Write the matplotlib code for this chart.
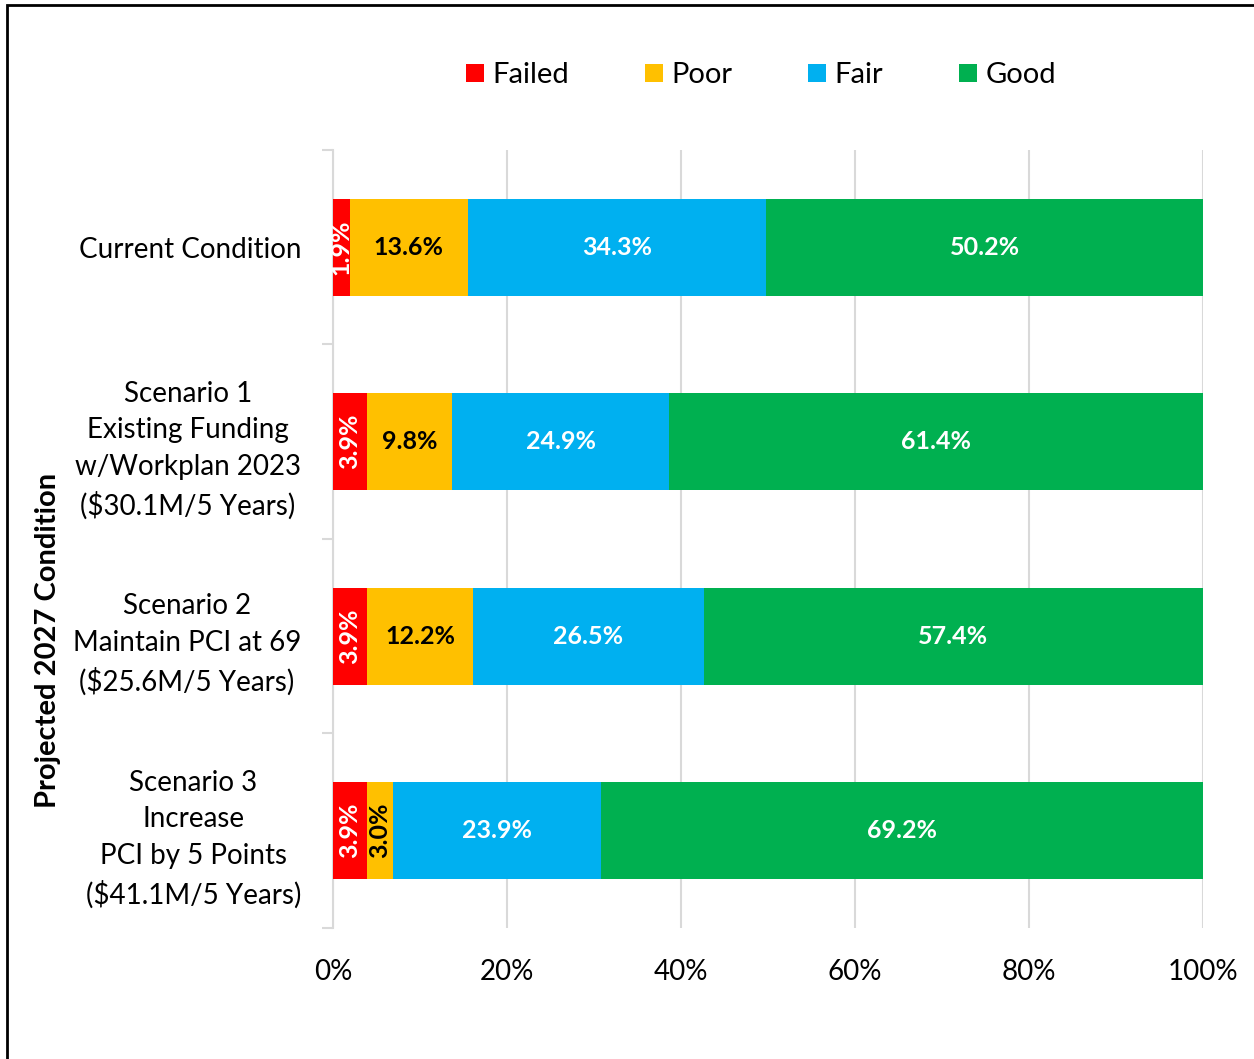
import matplotlib.pyplot as plt
import numpy as np
from matplotlib.patches import Rectangle

categories = [
    'Current Condition',
    'Scenario 1\nExisting Funding\nw/Workplan 2023\n($30.1M/5 Years)',
    'Scenario 2\nMaintain PCI at 69\n($25.6M/5 Years)',
    'Scenario 3\nIncrease\nPCI by 5 Points\n($41.1M/5 Years)',
]
series_names = ['Failed', 'Poor', 'Fair', 'Good']
failed = [1.9, 3.9, 3.9, 3.9]
poor = [13.6, 9.8, 12.2, 3.0]
fair = [34.3, 24.9, 26.5, 23.9]
good = [50.2, 61.4, 57.4, 69.2]
colors = ['#FF0000', '#FFC000', '#00B0F0', '#00B050']
label_colors = ['white', 'black', 'white', 'white']

plt.rcParams['font.family'] = ['Lato', 'DejaVu Sans']

fig = plt.figure(figsize=(12.54, 10.59), dpi=100)
ax = fig.add_axes([0.2656, 0.1237, 0.6938, 0.7347])

values = np.array([failed, poor, fair, good])
y = np.arange(len(categories))
left = np.zeros(len(categories))
for i, name in enumerate(series_names):
    ax.barh(y, values[i], left=left, height=0.5, color=colors[i], label=name, zorder=3)
    for j in range(len(categories)):
        v = values[i, j]
        cx = left[j] + v / 2
        rot = 90 if (i == 0 or v < 5) else 0
        ax.text(cx, y[j], f'{v:.1f}%', ha='center', va='center', rotation=rot,
                color=label_colors[i], fontsize=18, fontweight='bold', zorder=4)
    left += values[i]

ax.set_xlim(0, 100)
ax.set_ylim(len(categories) - 0.5, -0.5)
ax.set_xticks(np.arange(0, 101, 20))
ax.set_xticklabels([f'{t}%' for t in range(0, 101, 20)], fontsize=20)
ax.set_yticks(y)
ax.set_yticklabels(categories, fontsize=20, multialignment='center', linespacing=1.5)
ax.set_yticks(np.arange(-0.5, len(categories), 1), minor=True)
ax.tick_params(axis='y', which='major', length=0, pad=23)
ax.tick_params(axis='y', which='minor', length=8, color='#D9D9D9', width=1.5)
ax.tick_params(axis='x', length=0, pad=22)
ax.grid(axis='x', color='#D9D9D9', linewidth=1.5, zorder=0)
for s in ['top', 'right', 'bottom']:
    ax.spines[s].set_visible(False)
ax.spines['left'].set_color('#D9D9D9')
ax.spines['left'].set_linewidth(1.5)

fig.text(0.038, 0.395, 'Projected 2027 Condition', rotation=90, ha='center', va='center',
         fontsize=21, fontweight='bold')

fig.legend(loc='center', bbox_to_anchor=(0.607, 0.929), ncol=4, frameon=False,
           fontsize=21, handlelength=0.6, handleheight=0.6, handletextpad=0.3,
           columnspacing=2.6)

fig.patches.append(Rectangle((0.0056, -0.05), 1.2, 0.9953 + 0.05, transform=fig.transFigure,
                             fill=False, edgecolor='black', linewidth=2))

fig.savefig('out.png', dpi=100)
plt.close(fig)
